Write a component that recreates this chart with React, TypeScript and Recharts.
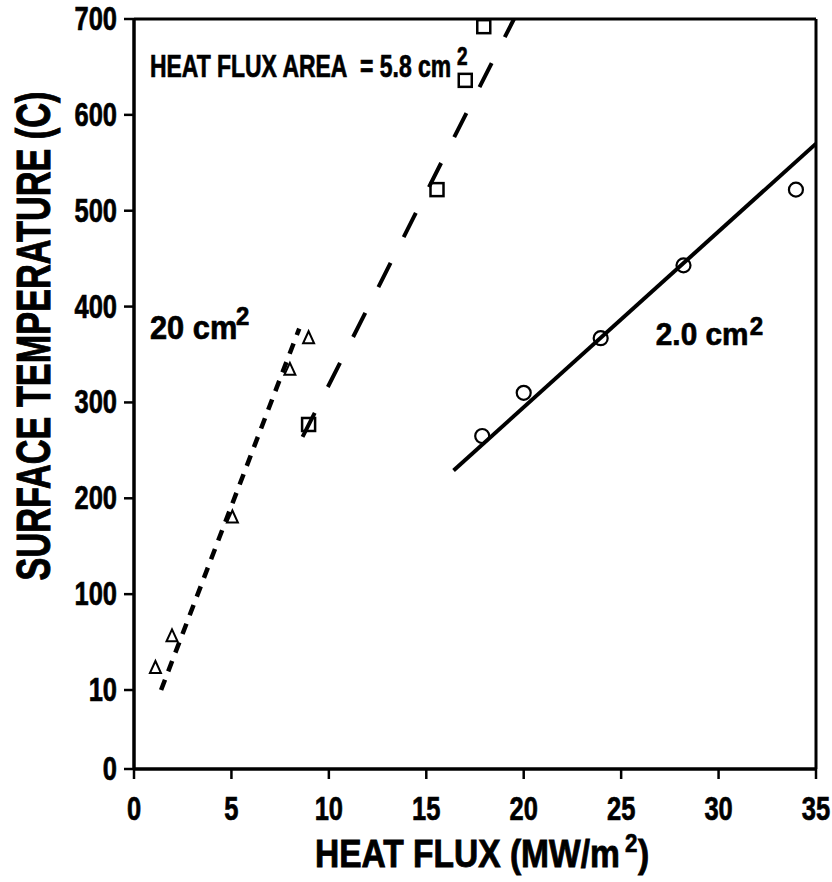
import React from "react";
import {
  ScatterChart, Scatter, XAxis, YAxis, ReferenceLine, ReferenceDot,
} from "recharts";

// measured points, heat flux (MW/m2) vs surface temperature (C)
const triFlux = [1.1, 1.95, 5.05, 8.0, 8.96];
const triTemp = [23, 56, 180, 334, 367];
const sqFlux = [8.96, 15.55, 17.0, 17.95];
const sqTemp = [277, 522, 636, 692];
const circFlux = [17.87, 20.0, 23.95, 28.2, 33.97];
const circTemp = [265, 310, 367, 443, 522];

// fitted lines (end points)
const fit20Flux = [1.39, 8.48];
const fit20Temp = [0, 377];
const fit58Flux = [8.65, 19.5];
const fit58Temp = [264, 700];
const fit2Flux = [16.4, 35];
const fit2Temp = [229, 570];

const xTicks = [0, 5, 10, 15, 20, 25, 30, 35];
// axis is broken at the bottom: "0" sits below the "10" mark
const yBreak = -82.4;
const yTicks = [yBreak, 0, 100, 200, 300, 400, 500, 600, 700];
const yTickLabel = (v: number) => (v === yBreak ? "0" : v === 0 ? "10" : String(v));

const pts = (xs: number[], ys: number[]) => xs.map((x, i) => ({ x, y: ys[i] }));

const FONT = "'Liberation Sans', Arial, Helvetica, sans-serif";

function Txt({ x, y, fs, sx = 1, anchor = "start", rot = 0, sw = 0.7, children }: any) {
  const t = `translate(${x},${y})${rot ? ` rotate(${rot})` : ""} scale(${sx},1)`;
  return (
    <text transform={t} textAnchor={anchor} fontSize={fs} fontWeight="bold" fontFamily={FONT}
      fill="#000" stroke="#000" strokeWidth={sw}>
      {children}
    </text>
  );
}

const Triangle = ({ cx, cy }: any) => (
  <polygon
    points={`${cx},${cy - 7} ${cx - 5.5},${cy + 5} ${cx + 5.5},${cy + 5}`}
    fill="none" stroke="#000" strokeWidth={2}
  />
);
const Square = ({ cx, cy }: any) => (
  <rect x={cx - 6.5} y={cy - 6.5} width={13} height={13} fill="none" stroke="#000" strokeWidth={2.5} />
);
const Circle = ({ cx, cy }: any) => <circle cx={cx} cy={cy} r={7} fill="none" stroke="#000" strokeWidth={2.2} />;
const Nothing = () => <g />;

export default function App() {
  return (
    <div style={{ position: "absolute", left: 0, top: 0, width: 832, height: 882, background: "#fff" }}>
      <ScatterChart width={832} height={882} margin={{ top: 19, right: 16, left: 34, bottom: 53 }}>
        <XAxis
          type="number"
          dataKey="x"
          domain={[0, 35]}
          ticks={xTicks}
          interval={0}
          allowDataOverflow
          height={60}
          tickSize={10}
          tickMargin={0}
          axisLine={{ stroke: "#000", strokeWidth: 3.5 }}
          tickLine={{ stroke: "#000", strokeWidth: 2.5 }}
          tick={(p: any) => (
            <Txt x={p.x} y={p.y + 41} fs={34} sx={0.75} anchor="middle">{p.payload.value}</Txt>
          )}
          label={{
            content: (p: any) => {
              const vb = p.viewBox;
              return (
                <g>
                  <Txt x={vb.x + 181} y={vb.y + 98} fs={39} sx={0.86} sw={0.9}>HEAT FLUX (MW/m</Txt>
                  <Txt x={vb.x + 491} y={vb.y + 83} fs={26} sx={0.86}>2</Txt>
                  <Txt x={vb.x + 504} y={vb.y + 98} fs={39} sx={0.86} sw={0.9}>)</Txt>
                </g>
              );
            },
          }}
        />
        <YAxis
          type="number"
          dataKey="y"
          domain={[yBreak, 700]}
          ticks={yTicks}
          interval={0}
          allowDataOverflow
          width={100}
          tickSize={10}
          tickMargin={7}
          axisLine={{ stroke: "#000", strokeWidth: 3.5 }}
          tickLine={{ stroke: "#000", strokeWidth: 2.5 }}
          tick={(p: any) => (
            <Txt x={p.x} y={p.y + 11} fs={34} sx={0.75} anchor="end">{yTickLabel(p.payload.value)}</Txt>
          )}
          label={{
            content: (p: any) => {
              const vb = p.viewBox;
              return (
                <Txt x={vb.x + 16} y={vb.y + 317} fs={49} sx={0.7} sw={1} anchor="middle" rot={-90}>
                  SURFACE TEMPERATURE (C)
                </Txt>
              );
            },
          }}
        />
        <ReferenceLine y={700} stroke="#000" strokeWidth={3} />
        <ReferenceLine x={35} stroke="#000" strokeWidth={3} />

        <Scatter data={pts(fit20Flux, fit20Temp)} shape={Nothing} isAnimationActive={false}
          line={{ stroke: "#000", strokeWidth: 4.5, strokeDasharray: "11 9" }} />
        <Scatter data={pts(fit58Flux, fit58Temp)} shape={Nothing} isAnimationActive={false}
          line={{ stroke: "#000", strokeWidth: 4, strokeDasharray: "27 29" }} />
        <Scatter data={pts(fit2Flux, fit2Temp)} shape={Nothing} isAnimationActive={false}
          line={{ stroke: "#000", strokeWidth: 4 }} />

        <Scatter data={pts(triFlux, triTemp)} shape={Triangle} isAnimationActive={false} />
        <Scatter data={pts(sqFlux, sqTemp)} shape={Square} isAnimationActive={false} />
        <Scatter data={pts(circFlux, circTemp)} shape={Circle} isAnimationActive={false} />

        <ReferenceDot x={0.82} y={640} r={0} ifOverflow="visible"
          shape={(p: any) => (
            <g>
              <Txt x={p.cx} y={p.cy} fs={30.7} sx={0.747}>{"HEAT FLUX AREA\u00a0\u00a0= 5.8 cm"}</Txt>
              <Txt x={p.cx + 307} y={p.cy - 12} fs={25} sx={0.76}>2</Txt>
            </g>
          )} />
        <ReferenceDot x={0.82} y={366} r={0} ifOverflow="visible"
          shape={(p: any) => (
            <g>
              <Txt x={p.cx} y={p.cy} fs={33.5} sx={0.92}>20 cm</Txt>
              <Txt x={p.cx + 86} y={p.cy - 14} fs={26} sx={0.92}>2</Txt>
            </g>
          )} />
        <ReferenceDot x={26.78} y={360} r={0} ifOverflow="visible"
          shape={(p: any) => (
            <g>
              <Txt x={p.cx} y={p.cy} fs={32} sx={0.93}>2.0 cm</Txt>
              <Txt x={p.cx + 94} y={p.cy - 10} fs={26} sx={0.93}>2</Txt>
            </g>
          )} />
      </ScatterChart>
    </div>
  );
}
